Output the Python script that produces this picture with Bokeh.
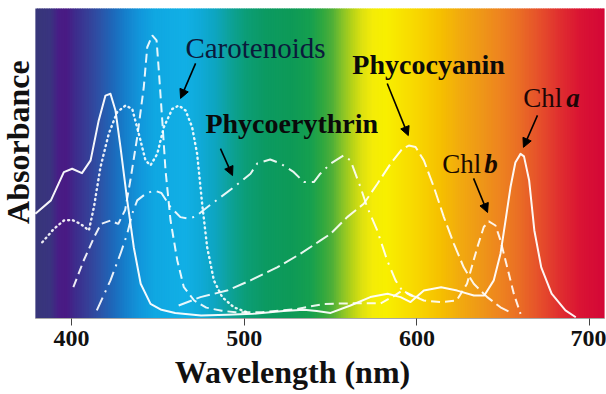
import numpy as np
from bokeh.plotting import figure
from bokeh.models import Label, Arrow, NormalHead, FixedTicker, Range1d
from bokeh.embed import file_html
from bokeh.resources import INLINE

# ---------------- data ----------------
tick_values = [400, 500, 600, 700]
tick_labels = ["400", "500", "600", "700"]

chla_wl = [379, 388, 395.5, 400.3, 406, 411, 415.7, 419.6, 422.5, 425.4, 428.3, 432.2, 436, 440,
           445.7, 452, 460, 475, 490, 505, 522.7, 534.5, 542, 550, 561.5, 573, 583, 590.5, 596.3,
           604, 614, 623.3, 633, 639, 644.5, 648.4, 651.3, 654.2, 657, 660, 662, 665, 668, 672,
           678, 686, 692]
chla_abs = [.338, .381, .472, .483, .469, .51, .639, .719, .725, .671, .553, .381, .23, .112,
            .047, .028, .018, .010, .012, .015, .024, .028, .024, .018, .042, .069, .080, .069, .053,
            .090, .101, .090, .074, .074, .123, .209, .316, .424, .503, .531, .523, .445, .284, .165,
            .08, .026, .004]

chlb_wl = [401, 407, 413, 417, 422.5, 427, 431, 434, 438, 441.8, 443.8, 446.7, 449.2, 450.5,
           452.5, 454.4, 457.3, 461.2, 465, 471, 478, 487, 495, 510, 530, 546, 563, 579, 586,
           591.5, 597, 604, 614, 623, 629, 635, 638.7, 641.6, 645.5, 648.4, 652.3, 656.1, 660]
chlb_abs = [.101, .187, .262, .305, .316, .305, .35, .445, .585, .746, .875, .913, .897, .80,
            .639, .477, .316, .187, .101, .058, .035, .025, .02, .02, .03, .047, .049, .049, .07,
            .09, .075, .058, .053, .058, .112, .23, .295, .313, .30, .252, .165, .08, .015]

car_wl = [383, 389.7, 395.5, 400.3, 405.2, 410, 412.9, 416.7, 421.5, 426.4, 431.2, 435.1, 438.9,
          442.8, 445.7, 449.6, 453.4, 458.3, 462.1, 466, 469.8, 472.7, 475.6, 478.5, 482.4, 487.2,
          494, 501.7]
car_abs = [.246, .289, .316, .318, .305, .284, .359, .488, .596, .666, .687, .676, .596,
           .51, .494, .531, .617, .676, .687, .671, .617, .531, .37, .23, .123, .069,
           .036, .02]

pe_wl = [414.6, 422.5, 428.3, 432.2, 435.1, 438, 442.8, 447.6, 452, 457.3, 463, 468, 472, 477.6,
         486, 494, 503.6, 507.5, 515, 521, 528.7, 534.5, 540.3, 544, 547, 550, 557.6, 561.5,
         567.3, 571.2, 577, 582.8, 587.6, 591.5, 596, 602]
pe_abs = [.026, .123, .209, .273, .338, .381, .402, .413, .405, .359, .327, .322, .33, .355,
          .39, .424, .467, .50, .513, .50, .472, .44, .44, .467, .483, .50, .526, .51,
          .424, .359, .284, .187, .123, .09, .075, .065]

pc_wl = [462, 474.6, 490, 503.6, 519, 532.6, 544.2, 550, 559.6, 569.2, 577, 584.7, 591.5, 595.3,
         599.2, 604, 609.8, 615.6, 621.4, 627.1, 632.9, 640.7, 648.4, 654.2]
pc_abs = [.042, .069, .09, .123, .165, .209, .252, .273, .327, .37, .434, .499, .547, .558,
          .553, .51, .424, .327, .241, .165, .112, .069, .036, .02]

# background spectrum colour stops
bg_wl = [379, 387.8, 392.2, 396.8, 402, 409.6, 416.7, 423.7, 431.1, 439.9, 448.5, 465.9, 474.6,
         483.3, 492, 500.7, 512.3, 526.8, 538.4, 545.4, 551.1, 556.9, 562.7, 568.5, 574.3, 581.8,
         590.5, 602.1, 613.7, 625.3, 636.8, 648.4, 660, 671.6, 683.2, 694.7, 708.6]
bg_col = ["#38377a", "#3a3480", "#481e86", "#4a1a84", "#3e2c8c", "#364098", "#2c54a8", "#1e68ba",
          "#1680cc", "#1298dc", "#10a8e2", "#12b0e6", "#10aad8", "#0ea6c0", "#0ea298", "#0c9e78",
          "#0c9a62", "#0e9a58", "#16a050", "#30a840", "#50b038", "#88c428", "#b8d418", "#e0e210",
          "#f4ec08", "#f8f000", "#f8e400", "#f8d400", "#f6c000", "#f2aa10", "#ef9818", "#ee8420",
          "#ea6c26", "#e64e2c", "#e02e30", "#da1434", "#d40838"]

# ---------------- figure ----------------
# frame covers the whole canvas; the spectrum panel spans 379-708.6 nm, absorbance 0-1
p = figure(width=606, height=394, x_range=Range1d(358.81, 709.79), y_range=Range1d(-0.2452, 1.0258),
           output_backend="svg", toolbar_location=None, min_border=0)
p.outline_line_color = None
p.grid.visible = False
p.yaxis.visible = False
p.background_fill_color = "white"
p.border_fill_color = "white"

# spectrum background
def _rgb(h):
    h = h.lstrip("#")
    return [int(h[i:i + 2], 16) for i in (0, 2, 4)]

stops_rgb = np.array([_rgb(c) for c in bg_col], dtype=float)
edges = np.arange(bg_wl[0], bg_wl[-1] - 0.5, 1.0)
right_edges = np.minimum(edges + 1.5, bg_wl[-1])
mids = edges + 0.5
strip_cols = []
for m in mids:
    r = np.interp(m, bg_wl, stops_rgb[:, 0])
    g = np.interp(m, bg_wl, stops_rgb[:, 1])
    b = np.interp(m, bg_wl, stops_rgb[:, 2])
    strip_cols.append("#%02x%02x%02x" % (int(r), int(g), int(b)))
p.quad(left=edges, right=right_edges, bottom=0, top=1, fill_color=strip_cols, line_color=None)

# curves
W = "#ffffff"
p.line(chla_wl, chla_abs, line_color=W, line_width=2, line_alpha=0.95, line_join="round")
p.line(chlb_wl, chlb_abs, line_color=W, line_width=2, line_alpha=0.9, line_dash="9 5")
p.line(car_wl, car_abs, line_color=W, line_width=2.4, line_alpha=0.9, line_dash="1 4",
       line_cap="round")
p.line(pe_wl, pe_abs, line_color=W, line_width=2, line_alpha=0.9, line_dash="14 6 2 6")
p.line(pc_wl, pc_abs, line_color=W, line_width=2, line_alpha=0.9, line_dash="14 5")

# x axis drawn at absorbance 0
p.xaxis.fixed_location = 0
p.xaxis.bounds = (bg_wl[0], bg_wl[-1])
p.xaxis.ticker = FixedTicker(ticks=tick_values)
p.xaxis.major_label_overrides = {v: t for v, t in zip(tick_values, tick_labels)}
p.xaxis.major_label_text_font = "Liberation Serif"
p.xaxis.major_label_text_font_style = "bold"
p.xaxis.major_label_text_font_size = "24px"
p.xaxis.major_label_text_color = "#111111"
p.xaxis.major_label_standoff = 6
p.xaxis.major_tick_in = 0
p.xaxis.major_tick_out = 7
p.xaxis.major_tick_line_color = "#444444"
p.xaxis.minor_tick_line_color = None
p.xaxis.axis_line_color = "#a8a8a8"

SERIF = "Liberation Serif"
p.add_layout(Label(x=527.9, y=-0.206, y_offset=10, text="Wavelength (nm)", text_font=SERIF,
                   text_font_style="bold", text_font_size="32px", text_align="center",
                   text_baseline="alphabetic", text_color="#111111"))
p.add_layout(Label(x=373.3, y=0.569, x_offset=-8, text="Absorbance", text_font=SERIF,
                   angle=np.pi / 2, text_font_style="bold", text_font_size="32px",
                   text_align="center", text_baseline="alphabetic", text_color="#111111"))

# curve names
p.add_layout(Label(x=465.9, y=0.842, y_offset=9, text="Carotenoids", text_font=SERIF,
                   text_font_size="29px", text_color="#0b1a3c", text_baseline="alphabetic"))
p.add_layout(Label(x=477.5, y=0.60, y_offset=9, text="Phycoerythrin", text_font=SERIF,
                   text_font_size="28px", text_font_style="bold", text_color="#0a0a0a",
                   text_baseline="alphabetic"))
p.add_layout(Label(x=562.6, y=0.79, y_offset=9, text="Phycocyanin", text_font=SERIF,
                   text_font_size="28px", text_font_style="bold", text_color="#0a0a0a",
                   text_baseline="alphabetic"))
p.add_layout(Label(x=661.6, y=0.687, y_offset=8, text="Chl", text_font=SERIF,
                   text_font_size="27px", text_color="#1e0606", text_baseline="alphabetic"))
p.add_layout(Label(x=686.5, y=0.687, y_offset=8, text="a", text_font=SERIF,
                   text_font_size="27px", text_font_style="bold italic", text_color="#1e0606",
                   text_baseline="alphabetic"))
p.add_layout(Label(x=614.7, y=0.474, y_offset=8, text="Chl", text_font=SERIF,
                   text_font_size="27px", text_color="#1a0a00", text_baseline="alphabetic"))
p.add_layout(Label(x=639.0, y=0.474, y_offset=8, text="b", text_font=SERIF,
                   text_font_size="27px", text_font_style="bold italic", text_color="#1a0a00",
                   text_baseline="alphabetic"))

# arrows
for xs, ys, xe, ye in [(471.8, .823, 463.1, .71), (486.2, .548, 493.2, .461),
                       (582.8, .758, 595.0, .590), (669.8, .655, 661.7, .552),
                       (632.8, .452, 640.9, .342)]:
    p.add_layout(Arrow(end=NormalHead(size=9, fill_color="#000000", line_color="#000000"),
                       x_start=xs, y_start=ys, x_end=xe, y_end=ye,
                       line_width=1.6, line_color="#000000"))

open("out.html", "w").write(file_html(p, INLINE))
